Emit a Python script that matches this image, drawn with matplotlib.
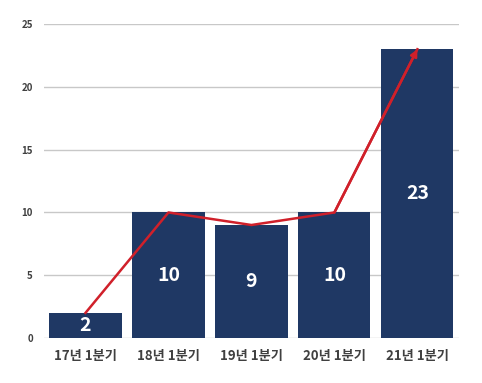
import numpy as np
import matplotlib.pyplot as plt

plt.rcParams['font.family'] = ['Noto Sans CJK KR', 'DejaVu Sans']

# Data
quarters = ['17년 1분기', '18년 1분기', '19년 1분기', '20년 1분기', '21년 1분기']
counts = [2, 10, 9, 10, 23]

bar_color = '#1f3864'
line_color = '#d0202a'

fig = plt.figure(figsize=(4.82, 3.83), dpi=100)
ax = fig.add_axes([0.0913, 0.1175, 0.8607, 0.8195])

x = np.arange(len(quarters))
ax.bar(x, counts, width=0.87, color=bar_color, zorder=2)

# Trend line with arrowhead on the last segment
ax.plot(x, counts, color=line_color, lw=1.8, zorder=3)
ax.annotate('', xy=(x[-1], counts[-1]), xytext=(x[-2], counts[-2]),
            arrowprops=dict(arrowstyle='-|>', color=line_color, lw=1.8,
                            mutation_scale=10, shrinkA=0, shrinkB=0),
            zorder=4)

for xi, v in zip(x, counts):
    ax.text(xi, v / 2, str(v), ha='center', va='center', color='white',
            fontsize=14, fontweight='bold', zorder=5)

ax.set_xlim(-0.5, len(quarters) - 0.5)
ax.set_ylim(0, 25)
ax.set_yticks(range(0, 26, 5))
ax.set_xticks(x)
ax.set_xticklabels(quarters, fontsize=9.5, fontweight='bold', color='#404040')
for lbl in ax.get_yticklabels():
    lbl.set_fontsize(7)
    lbl.set_fontweight('bold')
    lbl.set_color('#404040')

ax.grid(axis='y', color='#c8c8c8', lw=1, zorder=0)
ax.tick_params(length=0)
ax.tick_params(axis='y', pad=8)
ax.tick_params(axis='x', pad=8)
for s in ax.spines.values():
    s.set_visible(False)

fig.savefig('out.png', dpi=100)
